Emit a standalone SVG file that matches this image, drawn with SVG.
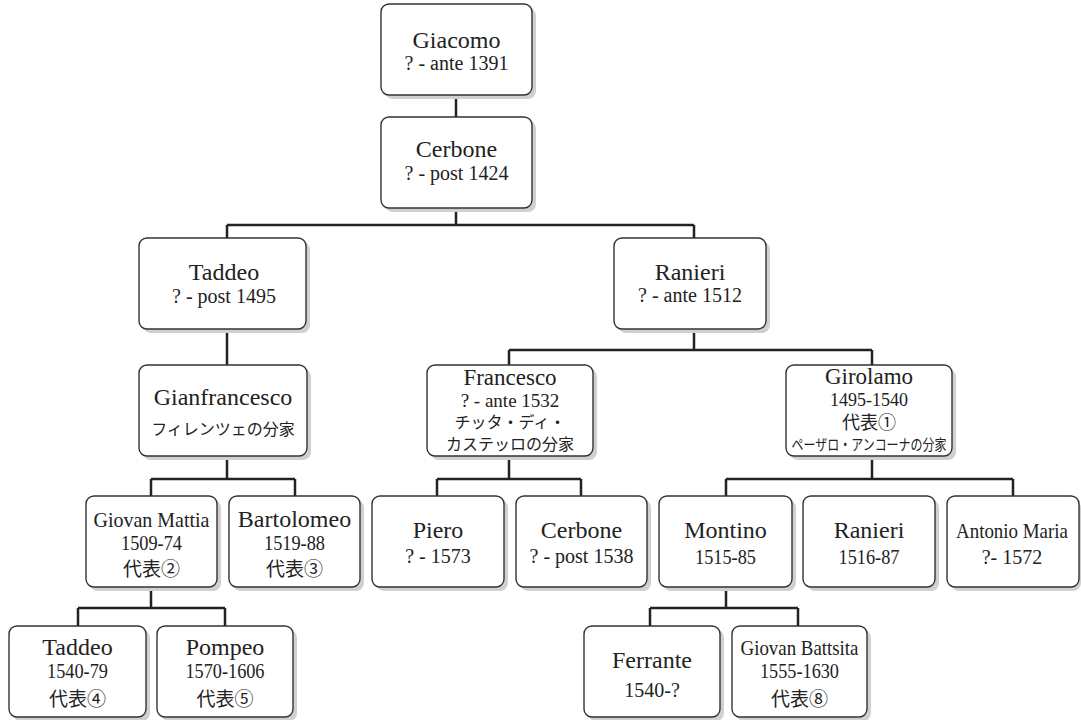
<svg xmlns="http://www.w3.org/2000/svg" width="1081" height="720" viewBox="0 0 1081 720">
<style>
.sh{fill:#d0d0d0}
.bx{fill:#fff;stroke:#333;stroke-width:1.4}
.nm{font-family:"Liberation Serif","Noto Sans CJK JP",serif;font-size:24px;fill:#222;text-anchor:middle}
.dt{font-family:"Liberation Serif","Noto Sans CJK JP",serif;font-size:20px;fill:#222;text-anchor:middle}
.jp{font-family:"Liberation Serif","Noto Sans CJK JP",serif;font-size:16px;fill:#222;text-anchor:middle}
.rp{font-family:"Liberation Serif","Noto Sans CJK JP",serif;font-size:19px;fill:#222;text-anchor:middle}
.cn{fill:none;stroke:#222;stroke-width:2.5}
</style>
<rect width="1081" height="720" fill="#fff"/>
<g id="connectors">
<path class="cn" d="M456 95V117M456 208V225M227 225H694M227 225V238M694 225V238"/>
<path class="cn" d="M227 329V365M694 329V350M509 350H872M509 350V365M872 350V365"/>
<path class="cn" d="M227 456V479M151 479H295M151 479V496M295 479V496"/>
<path class="cn" d="M509 456V479M437 479H581M437 479V496M581 479V496"/>
<path class="cn" d="M872 456V479M726 479H1013M726 479V496M1013 479V496"/>
<path class="cn" d="M151 587V608M78 608H225M78 608V626M225 608V626"/>
<path class="cn" d="M726 587V608M650 608H798M650 608V626M798 608V626"/>
</g>
<g id="giacomo"><rect class="sh" x="385" y="8" width="151" height="91" rx="8"/><rect class="bx" x="381" y="4" width="151" height="91" rx="8"/><text class="nm" x="456.5" y="48">Giacomo</text><text class="dt" x="456.5" y="70">? - ante 1391</text></g>
<g id="cerbone1"><rect class="sh" x="385" y="121" width="151" height="91" rx="8"/><rect class="bx" x="381" y="117" width="151" height="91" rx="8"/><text class="nm" x="456.5" y="157">Cerbone</text><text class="dt" x="456.5" y="180">? - post 1424</text></g>
<g id="taddeo1"><rect class="sh" x="143" y="242" width="167" height="91" rx="8"/><rect class="bx" x="139" y="238" width="167" height="91" rx="8"/><text class="nm" x="224" y="280">Taddeo</text><text class="dt" x="224" y="303">? - post 1495</text></g>
<g id="ranieri1"><rect class="sh" x="618" y="242" width="152" height="91" rx="8"/><rect class="bx" x="614" y="238" width="152" height="91" rx="8"/><text class="nm" x="690" y="280">Ranieri</text><text class="dt" x="690" y="302">? - ante 1512</text></g>
<g id="gianfrancesco"><rect class="sh" x="143" y="369" width="168" height="91" rx="8"/><rect class="bx" x="139" y="365" width="168" height="91" rx="8"/><text class="nm" x="223" y="405">Gianfrancesco</text><text class="jp" x="223" y="435">フィレンツェの分家</text></g>
<g id="francesco"><rect class="sh" x="431" y="369" width="166" height="91" rx="8"/><rect class="bx" x="427" y="365" width="166" height="91" rx="8"/><text class="nm" x="510" y="385" style="font-size:23px">Francesco</text><text class="dt" x="510" y="407" style="font-size:19px">? - ante 1532</text><text class="jp" x="510" y="428">チッタ・ディ・</text><text class="jp" x="510" y="450">カステッロの分家</text></g>
<g id="girolamo"><rect class="sh" x="790" y="369" width="166" height="91" rx="8"/><rect class="bx" x="786" y="365" width="166" height="91" rx="8"/><text class="nm" x="869" y="384" style="font-size:23px">Girolamo</text><text class="dt" x="869" y="406" style="font-size:19px" textLength="78" lengthAdjust="spacingAndGlyphs">1495-1540</text><text class="rp" x="869" y="429" style="font-size:18px">代表①</text><text class="jp" x="869" y="450" style="font-size:15px" textLength="155" lengthAdjust="spacingAndGlyphs">ペーザロ・アンコーナの分家</text></g>
<g id="giovanmattia"><rect class="sh" x="90" y="500" width="131" height="91" rx="8"/><rect class="bx" x="86" y="496" width="131" height="91" rx="8"/><text class="nm" x="151.5" y="527" style="font-size:22px" textLength="116" lengthAdjust="spacingAndGlyphs">Giovan Mattia</text><text class="dt" x="151.5" y="550" textLength="61" lengthAdjust="spacingAndGlyphs">1509-74</text><text class="rp" x="151.5" y="576">代表②</text></g>
<g id="bartolomeo"><rect class="sh" x="233" y="500" width="131" height="91" rx="8"/><rect class="bx" x="229" y="496" width="131" height="91" rx="8"/><text class="nm" x="294.5" y="527">Bartolomeo</text><text class="dt" x="294.5" y="550" textLength="61" lengthAdjust="spacingAndGlyphs">1519-88</text><text class="rp" x="294.5" y="576">代表③</text></g>
<g id="piero"><rect class="sh" x="376" y="500" width="132" height="91" rx="8"/><rect class="bx" x="372" y="496" width="132" height="91" rx="8"/><text class="nm" x="438" y="538">Piero</text><text class="dt" x="438" y="563">? - 1573</text></g>
<g id="cerbone2"><rect class="sh" x="520" y="500" width="131" height="91" rx="8"/><rect class="bx" x="516" y="496" width="131" height="91" rx="8"/><text class="nm" x="581.5" y="538">Cerbone</text><text class="dt" x="581.5" y="563">? - post 1538</text></g>
<g id="montino"><rect class="sh" x="663" y="500" width="133" height="91" rx="8"/><rect class="bx" x="659" y="496" width="133" height="91" rx="8"/><text class="nm" x="725.5" y="538">Montino</text><text class="dt" x="725.5" y="564" textLength="61" lengthAdjust="spacingAndGlyphs">1515-85</text></g>
<g id="ranieri2"><rect class="sh" x="807" y="500" width="132" height="91" rx="8"/><rect class="bx" x="803" y="496" width="132" height="91" rx="8"/><text class="nm" x="869" y="538">Ranieri</text><text class="dt" x="869" y="564" textLength="61" lengthAdjust="spacingAndGlyphs">1516-87</text></g>
<g id="antoniomaria"><rect class="sh" x="951" y="500" width="130" height="91" rx="8"/><rect class="bx" x="947" y="496" width="132" height="91" rx="8"/><text class="nm" x="1012" y="538" style="font-size:21px" textLength="112" lengthAdjust="spacingAndGlyphs">Antonio Maria</text><text class="dt" x="1012" y="564">?- 1572</text></g>
<g id="taddeo2"><rect class="sh" x="13" y="630" width="137" height="91" rx="8"/><rect class="bx" x="9" y="626" width="137" height="91" rx="8"/><text class="nm" x="77.5" y="655">Taddeo</text><text class="dt" x="77.5" y="678" textLength="61" lengthAdjust="spacingAndGlyphs">1540-79</text><text class="rp" x="77.5" y="706">代表④</text></g>
<g id="pompeo"><rect class="sh" x="161" y="630" width="136" height="91" rx="8"/><rect class="bx" x="157" y="626" width="136" height="91" rx="8"/><text class="nm" x="225" y="655">Pompeo</text><text class="dt" x="225" y="678" textLength="79" lengthAdjust="spacingAndGlyphs">1570-1606</text><text class="rp" x="225" y="706">代表⑤</text></g>
<g id="ferrante"><rect class="sh" x="588" y="630" width="136" height="91" rx="8"/><rect class="bx" x="584" y="626" width="136" height="91" rx="8"/><text class="nm" x="652" y="668">Ferrante</text><text class="dt" x="652" y="697">1540-?</text></g>
<g id="giovanbattsita"><rect class="sh" x="736" y="630" width="135" height="91" rx="8"/><rect class="bx" x="732" y="626" width="135" height="91" rx="8"/><text class="nm" x="799.5" y="655" style="font-size:21px" textLength="118" lengthAdjust="spacingAndGlyphs">Giovan Battsita</text><text class="dt" x="799.5" y="678" textLength="79" lengthAdjust="spacingAndGlyphs">1555-1630</text><text class="rp" x="799.5" y="706">代表⑧</text></g>
</svg>
